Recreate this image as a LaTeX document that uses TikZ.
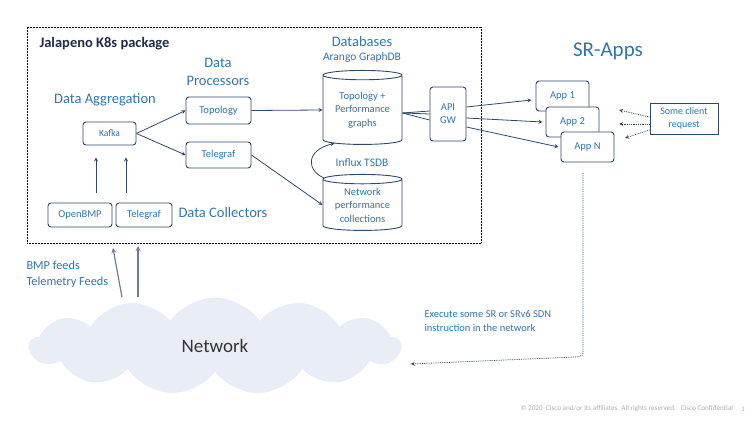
\documentclass[tikz,border=0pt]{standalone}
\usepackage{fontspec}
\setmainfont{Carlito}
\usepackage{tikz}
\usetikzlibrary{shapes.geometric, shapes.symbols}
\definecolor{navy}{RGB}{47, 72, 105}
\definecolor{tblue}{RGB}{46, 117, 182}
\definecolor{dark}{RGB}{31, 45, 75}
\definecolor{cloudfill}{RGB}{233, 237, 246}
\definecolor{feed}{RGB}{110, 125, 150}
\definecolor{foot}{RGB}{175, 175, 175}
\newcommand{\fsz}[2]{\fontsize{#1}{#2}\selectfont}

\begin{document}
\begin{tikzpicture}[x=1pt, y=-1pt, >=stealth,
  box/.style={draw=navy, line width=0.9pt, rounded corners=3pt, fill=white,
    text=tblue, align=center, inner sep=0pt, font=\fsz{10.5}{12}},
  db/.style={cylinder, shape border rotate=90, aspect=0.17, draw=navy,
    line width=0.9pt, fill=white, text=tblue, align=center, inner sep=0pt,
    font=\fsz{10.5}{13.5}},
  heading/.style={text=tblue, font=\fsz{14.5}{18}, align=center},
  note/.style={text=tblue, font=\fsz{10}{14}, align=left},
  link/.style={->, draw=navy, line width=0.8pt},
  ask/.style={->, draw=navy, line width=0.8pt, densely dotted},
  feedline/.style={->, draw=feed, line width=1.2pt},
]
  \useasboundingbox (0, 0) rectangle (750, 422);

  % package frame
  \node[draw, densely dotted, line width=0.5pt, minimum width=454pt,
    minimum height=216pt, inner sep=0pt] (k8s) at (254, 135) {};
  \node[anchor=west, text=dark, font=\bfseries\fsz{14.5}{16}] (title)
    at (36, 44) {Jalapeno K8s package};

  % headings
  \node[heading] (aggr) at (105, 100) {Data Aggregation};
  \node[heading] (proc) at (218, 72) {Data\\Processors};
  \node[heading, anchor=west] (coll) at (175, 213) {Data Collectors};
  \node[heading] (dbs) at (362, 42) {Databases};
  \node[note, font=\fsz{11.5}{13}] (arango) at (362, 57) {Arango GraphDB};
  \node[note, font=\fsz{11.5}{13}] (tsdb) at (362, 163) {Influx TSDB};
  \node[heading, font=\fsz{21}{24}] (srapps) at (608, 51) {SR-Apps};

  % boxes
  \node[box, font=\fsz{9.5}{11}, minimum width=53pt, minimum height=23pt]
    (kafka) at (109.5, 133.5) {Kafka};
  \node[box, minimum width=65pt, minimum height=27pt] (topo) at (218.5, 110.5) {Topology};
  \node[box, minimum width=65pt, minimum height=26pt] (telproc) at (218.5, 155) {Telegraf};
  \node[box, minimum width=64pt, minimum height=24pt] (openbmp) at (80, 215) {OpenBMP};
  \node[box, minimum width=56pt, minimum height=24pt] (telcoll) at (144, 215) {Telegraf};

  \node[db, minimum width=79pt, minimum height=74pt] (graph) at (362.5, 110)
    {Topology +\\Performance\\graphs};
  \node[db, minimum width=79pt, minimum height=56pt] (influx) at (362.5, 205)
    {Network\\performance\\collections};

  \node[box, font=\fsz{10.5}{13}, minimum width=36pt, minimum height=54pt]
    (api) at (448, 114) {API\\GW};

  \node[box, font=\fsz{10.5}{12}, minimum width=53pt, minimum height=30pt] (app1) at (562.5, 96) {App 1};
  \node[box, font=\fsz{10.5}{12}, minimum width=53pt, minimum height=30pt] (app2) at (572.5, 122) {App 2};
  \node[box, font=\fsz{10.5}{12}, minimum width=53pt, minimum height=30pt] (appN) at (587.5, 147) {App N};

  \node[box, rounded corners=0pt, font=\fsz{10}{12.5}, minimum width=68pt,
    minimum height=31pt] (client) at (684, 118.5) {Some client\\request};

  % network
  \node[cloud, cloud puffs=13, cloud puff arc=110, cloud ignores aspect,
    fill=cloudfill, minimum width=371pt, minimum height=97pt, text=black!80,
    font=\fsz{19}{21}] (net) at (215, 346) {Network};
  \node[note, font=\fsz{12.3}{16}, anchor=west] (feeds) at (23, 274)
    {BMP feeds\\Telemetry Feeds};
  \node[note, font=\fsz{10.5}{14}, anchor=west] (exec) at (421, 321)
    {Execute some SR or SRv6 SDN\\instruction in the network};

  \node[text=foot, font=\fsz{7.2}{9}, anchor=west] (copy) at (517, 409)
    {\textcopyright\ 2020\ \ Cisco and/or its affiliates. All rights reserved.\ \ \ Cisco Confidential};
  \node[text=foot, font=\fsz{7.2}{9}] (page) at (743, 409) {1};

  % connectors
  \draw[link] ([xshift=16pt, yshift=10pt]openbmp.north) -- ([xshift=-13.5pt, yshift=-12pt]kafka.south);
  \draw[link] ([xshift=-18pt, yshift=10pt]telcoll.north) -- ([xshift=16.5pt, yshift=-12pt]kafka.south);
  \draw[link] (kafka.east) -- (topo.west);
  \draw[link] (kafka.east) -- (telproc.west);
  \draw[link] (topo.east) -- (graph.west);
  \draw[link] (telproc.east) -- (influx.west);
  \draw[link] (influx.145) .. controls (306, 170) and (306, 150) .. (graph.230);

  \foreach \s in {3, 0, -6} {
    \draw[navy, line width=0.8pt] ([yshift=-3pt]graph.east) -- ([yshift=\s pt]api.west);
  }
  \draw[link] ([yshift=7pt]api.east) -- ([xshift=-4pt, yshift=-4pt]app1.west);
  \draw[link] ([yshift=-4pt]api.east) -- ([xshift=-3pt]app2.west);
  \draw[link] ([yshift=-13pt]api.east) -- ([xshift=-2pt]appN.west);

  \draw[ask] ([yshift=1.5pt]client.west) -- (619, 110);
  \draw[ask] ([yshift=-5.5pt]client.west) -- (619, 124);
  \draw[ask] ([yshift=-11.5pt]client.west) -- (625, 138);

  \coordinate (sdn) at (583, 173);
  \draw[ask] (sdn) -- (583, 350) .. controls (583, 356) .. (575, 357)
    -- ([xshift=9pt, yshift=-18pt]net.east);

  \draw[feedline] ([xshift=-93pt]net.north) -- (113, 248);
  \draw[feedline] ([xshift=-77pt]net.north) -- (138, 246);
\end{tikzpicture}
\end{document}
